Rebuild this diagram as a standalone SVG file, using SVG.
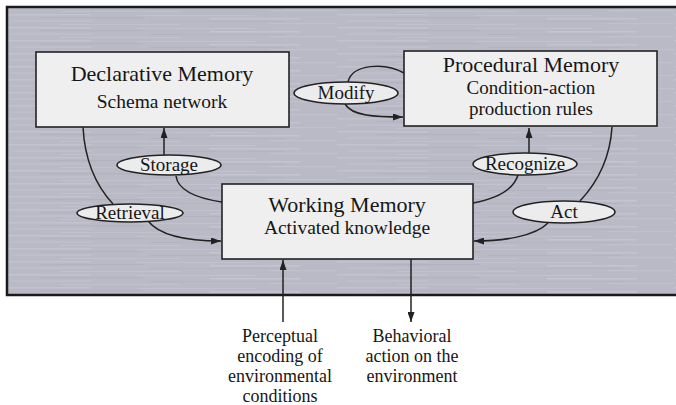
<svg xmlns="http://www.w3.org/2000/svg" width="676" height="405" viewBox="0 0 676 405">
<style>
.box{fill:#efefef;stroke:#222;stroke-width:1.6}
.ell{fill:#ececec;stroke:#222;stroke-width:1.5}
.ln{fill:none;stroke:#222;stroke-width:1.5}
text{font-family:"Liberation Serif",serif;fill:#161616;text-anchor:middle}
.t1{font-size:22px}
.t2{font-size:19.5px}
.t3{font-size:19px}
.lb{font-size:19px}
.bt{font-size:18px}
</style>
<defs>
<pattern id="tex" width="337" height="13" patternUnits="userSpaceOnUse">
<rect width="337" height="13" fill="#babac7"/>
<rect x="0" y="1" width="91" height="1.5" fill="#c3c3cf"/>
<rect x="137" y="2" width="118" height="1" fill="#c2c2ce"/>
<rect x="40" y="4" width="103" height="1.2" fill="#b2b2c0"/>
<rect x="210" y="5" width="90" height="1.5" fill="#c4c4d0"/>
<rect x="10" y="7.5" width="82" height="1.2" fill="#c2c2ce"/>
<rect x="150" y="8" width="135" height="1" fill="#b3b3c1"/>
<rect x="270" y="10" width="67" height="1.2" fill="#c1c1cd"/>
<rect x="60" y="11" width="120" height="1" fill="#c1c1cd"/>
</pattern>
<marker id="ah" markerWidth="10" markerHeight="7" refX="10" refY="3.5" orient="auto" markerUnits="userSpaceOnUse">
<path d="M0,0 L10,3.5 L0,7 z" fill="#222"/>
</marker>
</defs>
<rect x="0" y="0" width="676" height="405" fill="#fff"/>
<rect id="panel" x="7" y="7" width="690" height="288" fill="url(#tex)" stroke="#1a1a1a" stroke-width="2.5"/>

<g id="connectors">
<path class="ln" d="M222,202 C195,198 178,190 176,176"/>
<path class="ln" d="M164,155 L164,128" marker-end="url(#ah)"/>
<path class="ln" d="M83,127 C85,165 100,190 113,204"/>
<path class="ln" d="M148,221 C160,236 190,241 221,241" marker-end="url(#ah)"/>
<path class="ln" d="M348,82 C352,64 385,62 404,73"/>
<path class="ln" d="M345,104 C352,116 375,117 403,117" marker-end="url(#ah)"/>
<path class="ln" d="M473,203 C500,198 514,188 518,175"/>
<path class="ln" d="M529,153 L529,128" marker-end="url(#ah)"/>
<path class="ln" d="M612,127 C610,160 595,185 580,201"/>
<path class="ln" d="M548,223 C535,236 505,241 474,241" marker-end="url(#ah)"/>
<path class="ln" d="M283,322 L283,260" marker-end="url(#ah)"/>
<path class="ln" d="M411,259 L411,322" marker-end="url(#ah)"/>
</g>

<g id="declarative">
<rect class="box" x="36" y="52" width="253" height="75"/>
<text class="t1" x="162" y="81">Declarative Memory</text>
<text class="t2" x="162" y="108">Schema network</text>
</g>
<g id="procedural">
<rect class="box" x="404" y="51" width="253" height="75"/>
<text class="t1" x="531" y="72">Procedural Memory</text>
<text class="t3" x="531" y="94">Condition-action</text>
<text class="t3" x="531" y="115">production rules</text>
</g>
<g id="working">
<rect class="box" x="222" y="184" width="251" height="75"/>
<text class="t1" x="347" y="211.5">Working Memory</text>
<text class="t2" x="347" y="234">Activated knowledge</text>
</g>
<g id="storage">
<ellipse class="ell" cx="169" cy="165" rx="52" ry="10"/>
<text class="lb" x="169" y="171">Storage</text>
</g>
<g id="retrieval">
<ellipse class="ell" cx="130" cy="213" rx="53" ry="9"/>
<text class="lb" x="130" y="219">Retrieval</text>
</g>
<g id="modify">
<ellipse class="ell" cx="346" cy="93" rx="52" ry="11"/>
<text class="lb" x="346" y="99">Modify</text>
</g>
<g id="recognize">
<ellipse class="ell" cx="525" cy="164" rx="52" ry="11"/>
<text class="lb" x="525" y="170">Recognize</text>
</g>
<g id="act">
<ellipse class="ell" cx="564" cy="212" rx="51" ry="11"/>
<text class="lb" x="564" y="218">Act</text>
</g>
<g id="perceptual">
<text class="bt" x="280" y="342">Perceptual</text>
<text class="bt" x="280" y="362">encoding of</text>
<text class="bt" x="280" y="382">environmental</text>
<text class="bt" x="280" y="402">conditions</text>
</g>
<g id="behavioral">
<text class="bt" x="412" y="342">Behavioral</text>
<text class="bt" x="412" y="362">action on the</text>
<text class="bt" x="412" y="382">environment</text>
</g>
</svg>
